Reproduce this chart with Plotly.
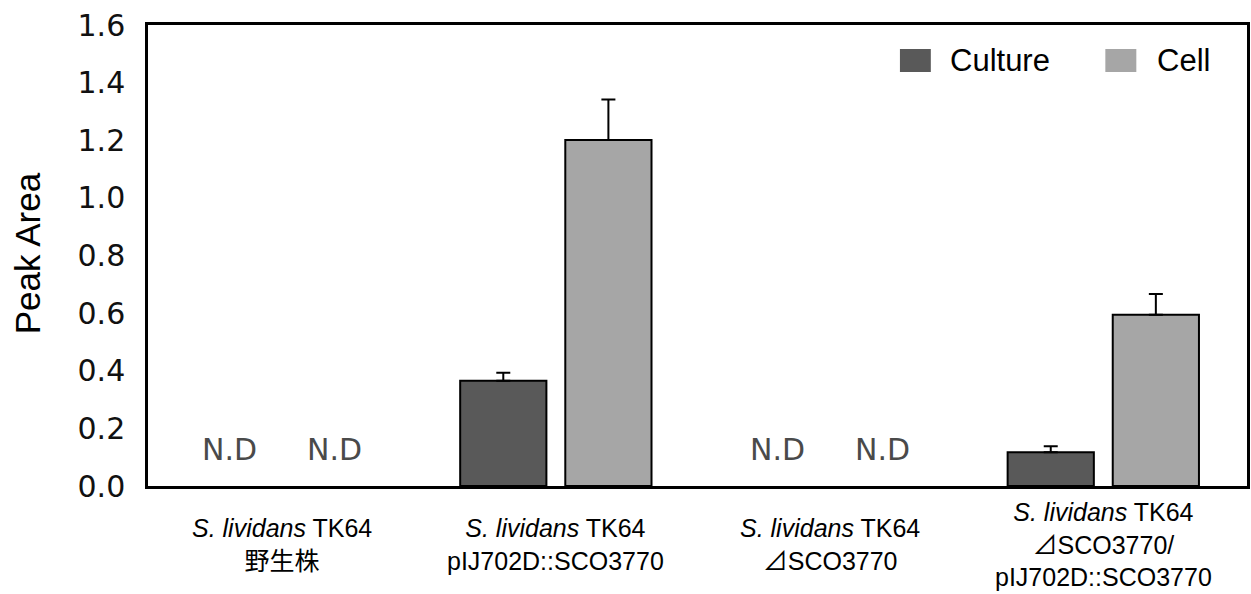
import plotly.graph_objects as go

categories = ["S. lividans TK64 野生株", "S. lividans TK64 pIJ702D::SCO3770",
              "S. lividans TK64 ⊿SCO3770", "S. lividans TK64 ⊿SCO3770/pIJ702D::SCO3770"]
tick_labels = ["<i>S. lividans</i> TK64<br>野生株",
               "<i>S. lividans</i> TK64<br>pIJ702D::SCO3770",
               "<i>S. lividans</i> TK64<br>⊿SCO3770",
               "<i>S. lividans</i> TK64<br>⊿SCO3770/<br>pIJ702D::SCO3770"]
culture = [None, 0.365, None, 0.117]
culture_err = [None, 0.028, None, 0.021]
cell = [None, 1.201, None, 0.594]
cell_err = [None, 0.140, None, 0.072]
series_names = ["Culture", "Cell"]
nd_label = "N.D"

C_CULT = "#595959"
C_CELL = "#a6a6a6"
LATIN = "Liberation Sans, Arial, Noto Sans CJK JP, sans-serif"
BAR_W = 0.315
GAP = 0.069

xs = list(range(len(categories)))
fig = go.Figure()
fig.add_trace(go.Bar(
    x=xs, y=culture, name=series_names[0], width=BAR_W, offset=-(BAR_W + GAP / 2),
    marker=dict(color=C_CULT, line=dict(color="black", width=2)),
    error_y=dict(type="data", symmetric=False, array=culture_err,
                 arrayminus=[0 if v is not None else None for v in culture_err],
                 color="black", thickness=2, width=7),
    showlegend=False))
fig.add_trace(go.Bar(
    x=xs, y=cell, name=series_names[1], width=BAR_W, offset=GAP / 2,
    marker=dict(color=C_CELL, line=dict(color="black", width=2)),
    error_y=dict(type="data", symmetric=False, array=cell_err,
                 arrayminus=[0 if v is not None else None for v in cell_err],
                 color="black", thickness=2, width=7),
    showlegend=False))

annotations = []
# N.D labels for missing values
for i, (cv, ce) in enumerate(zip(culture, cell)):
    for val, sign in ((cv, -1), (ce, 1)):
        if val is None:
            annotations.append(dict(
                x=i + sign * (BAR_W + GAP) / 2, y=0.128, xref="x", yref="y",
                text=nd_label, showarrow=False, xanchor="center", yanchor="middle",
                font=dict(family="DejaVu Sans", size=30, color="#4a4a4a")))
# category labels
for i, lab in enumerate(tick_labels):
    annotations.append(dict(
        x=i, y=-0.126, xref="x", yref="paper", text=lab, showarrow=False,
        xanchor="center", yanchor="middle", align="center",
        font=dict(family=LATIN, size=25, color="black")))
# y-axis title
annotations.append(dict(
    x=-0.11, y=0.505, xref="paper", yref="paper", text="Peak Area", textangle=-90,
    showarrow=False, xanchor="center", yanchor="middle",
    font=dict(family=LATIN, size=35, color="black")))
# custom legend
shapes = []
for (x0, x1, tx), col, nm in zip(((0.6842, 0.7123, 0.7278), (0.8711, 0.8993, 0.9165)),
                                 (C_CULT, C_CELL), series_names):
    shapes.append(dict(type="rect", xref="paper", yref="paper", x0=x0, x1=x1,
                       y0=0.898, y1=0.948, fillcolor=col, line=dict(width=0)))
    annotations.append(dict(x=tx, y=0.922, xref="paper", yref="paper", text=nm,
                            showarrow=False, xanchor="left", yanchor="middle",
                            font=dict(family=LATIN, size=31, color="black")))

fig.update_layout(
    width=1251, height=594,
    margin=dict(l=148, r=1, t=25, b=108),
    paper_bgcolor="white", plot_bgcolor="white",
    barmode="overlay",
    annotations=annotations, shapes=shapes,
    xaxis=dict(range=[-0.490, 3.525], showticklabels=False, showgrid=False,
               zeroline=False, showline=True, linecolor="black", linewidth=2.5,
               mirror=True, ticks=""),
    yaxis=dict(range=[0, 1.6], dtick=0.2, tickformat=".1f", showgrid=False,
               zeroline=False, showline=True, linecolor="black", linewidth=2.5,
               mirror=True, ticks="", ticklabelstandoff=14,
               tickfont=dict(family="DejaVu Sans", size=30, color="#111111")),
)

fig.write_html("out.html")
